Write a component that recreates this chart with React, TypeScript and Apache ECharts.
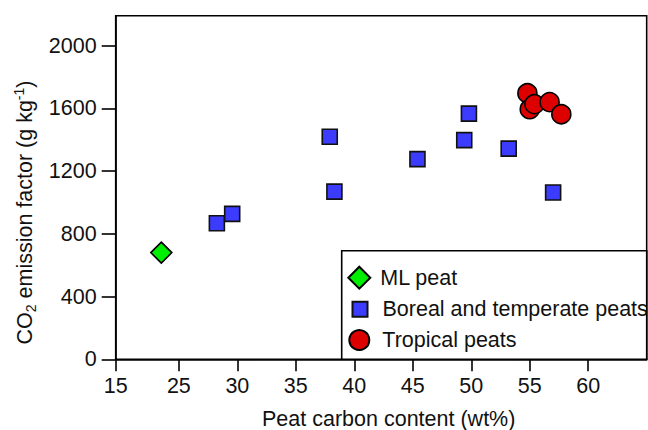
import React, { useEffect, useRef } from "react";
import * as echarts from "echarts";

// ---- data ----
const mlX = [23.5];
const mlY = [680];

const borealX = [28.25, 29.56, 37.9, 38.3, 45.4, 49.4, 49.8, 53.2, 57.0];
const borealY = [867, 927, 1418, 1069, 1276, 1397, 1566, 1343, 1063];

const tropicalX = [54.8, 55.0, 55.4, 56.7, 57.7];
const tropicalY = [1696, 1594, 1626, 1639, 1562];

const xTickValues = [19.6, 25, 30, 35, 40, 45, 50, 55, 60];
const xTickLabels = ["15", "25", "30", "35", "40", "45", "50", "55", "60"];
const yTickValues = [0, 400, 800, 1200, 1600, 2000];

const seriesNames = ["ML peat", "Boreal and temperate peats", "Tropical peats"];

const FONT = "Liberation Sans";
const INK = "#111";
const FS = 21.5;

function zip(xs: number[], ys: number[]) {
  return xs.map((x, i) => [x, ys[i]]);
}

export default function App() {
  const ref = useRef<HTMLDivElement>(null);

  useEffect(() => {
    if (!ref.current) return;
    const chart = echarts.init(ref.current, null, { renderer: "svg" });
    const axisLine = { color: "#000", width: 1.6 };

    const legendBase = {
      orient: "horizontal",
      padding: 0,
      left: 0,
      selectedMode: false,
      textStyle: { fontFamily: FONT, fontSize: FS, color: INK, lineHeight: 22 },
    };

    chart.setOption({
      animation: false,
      grid: {
        left: 115.7,
        top: 15.7,
        right: 1.3,
        bottom: 70.7,
        outerBoundsMode: "none",
        containLabel: false,
        show: true,
        borderColor: "#000",
        borderWidth: 1.6,
        backgroundColor: "transparent",
      },
      xAxis: {
        type: "value",
        min: 19.6,
        max: 65,
        name: "Peat carbon content (wt%)",
        nameLocation: "middle",
        nameGap: 50,
        nameTextStyle: {
          fontFamily: FONT,
          fontSize: FS,
          color: INK,
          lineHeight: 19,
          padding: [0, 0, 0, 15],
        },
        axisLine: { show: true, onZero: false, lineStyle: axisLine },
        axisTick: { show: true, inside: false, length: 12, customValues: xTickValues, lineStyle: axisLine },
        axisLabel: {
          customValues: xTickValues,
          margin: 16,
          fontFamily: FONT,
          fontSize: FS,
          color: INK,
          formatter: (v: number) => {
            const i = xTickValues.findIndex((t) => Math.abs(t - v) < 1e-6);
            return i >= 0 ? xTickLabels[i] : "";
          },
        },
        splitLine: { show: false },
      },
      yAxis: {
        type: "value",
        min: 0,
        max: 2190,
        name: "{base|CO}{sub|2}{base| emission factor (g kg}{sup|-1}{base|)}",
        nameLocation: "middle",
        nameGap: 75,
        nameTextStyle: {
          padding: [0, 50, 0, 0],
          rich: {
            base: { fontFamily: FONT, fontSize: FS, color: INK, lineHeight: 26 },
            sub: { fontFamily: FONT, fontSize: 14, color: INK, lineHeight: 14, verticalAlign: "bottom" },
            sup: { fontFamily: FONT, fontSize: 14, color: INK, lineHeight: 14, verticalAlign: "top" },
          },
        },
        axisLine: { show: true, onZero: false, lineStyle: axisLine },
        axisTick: { show: true, inside: false, length: 14, customValues: yTickValues, lineStyle: axisLine },
        axisLabel: {
          customValues: yTickValues,
          margin: 19,
          fontFamily: FONT,
          fontSize: FS,
          color: INK,
          formatter: (v: number) => String(v),
        },
        splitLine: { show: false },
      },
      legend: [
        {
          ...legendBase,
          left: 347.3,
          top: 265.7,
          itemWidth: 22,
          itemHeight: 22,
          data: [seriesNames[0]],
          textStyle: { ...legendBase.textStyle, padding: [0, 0, 0, 5] },
        },
        {
          ...legendBase,
          left: 351.5,
          top: 298.3,
          itemWidth: 15,
          itemHeight: 15,
          data: [seriesNames[1]],
          textStyle: { ...legendBase.textStyle, padding: [0, 0, 0, 10] },
        },
        {
          ...legendBase,
          left: 348.3,
          top: 329,
          itemWidth: 20,
          itemHeight: 20,
          data: [seriesNames[2]],
          textStyle: { ...legendBase.textStyle, padding: [0, 0, 0, 8] },
        },
      ],
      graphic: [
        {
          type: "rect",
          z: 3,
          shape: { x: 341.7, y: 250.7, width: 305, height: 108.6 },
          style: { fill: "#fff", stroke: "#000", lineWidth: 1.6 },
        },
      ],
      series: [
        {
          name: seriesNames[0],
          type: "scatter",
          symbol: "diamond",
          symbolSize: [21, 21],
          data: zip(mlX, mlY),
          itemStyle: { color: "#00ee00", borderColor: "#000", borderWidth: 1.6, opacity: 1 },
        },
        {
          name: seriesNames[1],
          type: "scatter",
          symbol: "rect",
          symbolSize: 15,
          data: zip(borealX, borealY),
          itemStyle: { color: "#3c3cff", borderColor: "#111", borderWidth: 1.6, opacity: 1 },
        },
        {
          name: seriesNames[2],
          type: "scatter",
          symbol: "circle",
          symbolSize: 19,
          data: zip(tropicalX, tropicalY),
          itemStyle: { color: "#dd0000", borderColor: "#000", borderWidth: 1.6, opacity: 1 },
        },
      ],
    });

    return () => chart.dispose();
  }, []);

  return (
    <div
      ref={ref}
      style={{ position: "absolute", left: 0, top: 0, width: 648, height: 430, background: "#fff" }}
    />
  );
}
